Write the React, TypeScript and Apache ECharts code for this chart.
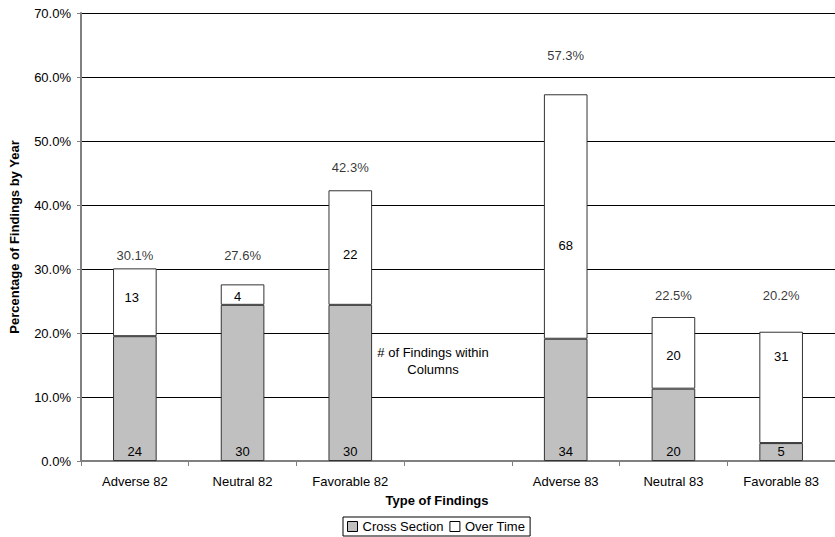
import React, { useEffect, useRef } from "react";
import * as echarts from "echarts";

const categories = ["Adverse 82", "Neutral 82", "Favorable 82", "", "Adverse 83", "Neutral 83", "Favorable 83"];
const crossSectionPct = [19.5, 24.4, 24.4, null, 19.1, 11.3, 2.8];
const overTimePct = [10.6, 3.2, 17.9, null, 38.2, 11.2, 17.4];
const totalPct = [30.1, 27.6, 42.3, null, 57.3, 22.5, 20.2];
const crossSectionCount = [24, 30, 30, null, 34, 20, 5];
const overTimeCount = [13, 4, 22, null, 68, 20, 31];
const yTicks = [0, 10, 20, 30, 40, 50, 60, 70];

// label placement tweaks (Excel labels were moved by hand)
const overLabelOffsets = [[-3, -5], [-5, 2], [0, 7], [0, 0], [0, 29], [0, 3], [0, -31]];
const totalLabelDist = [6, 22, 16, 0, 32, 15, 30];

const FONT = "'Liberation Sans', Arial, sans-serif";

export default function App() {
  const ref = useRef<HTMLDivElement>(null);
  useEffect(() => {
    if (!ref.current) return;
    const chart = echarts.init(ref.current, undefined, { renderer: "svg" });
    const barBorder = { borderColor: "#333", borderWidth: 1 };
    chart.setOption({
      animation: false,
      textStyle: { fontFamily: FONT },
      grid: { left: 77, right: -3, top: 13, bottom: 76, containLabel: false },
      legend: {
        data: ["Cross Section", "Over Time"],
        left: 343,
        top: 517,
        padding: [3, 5, 3, 4],
        itemGap: 6,
        itemWidth: 10,
        itemHeight: 10,
        icon: "rect",
        borderColor: "#000",
        borderWidth: 1,
        borderRadius: 0,
        textStyle: { fontSize: 13, color: "#000", fontFamily: FONT },
        itemStyle: { borderColor: "#000", borderWidth: 1 },
      },
      xAxis: {
        type: "category",
        data: categories,
        boundaryGap: true,
        axisLine: { lineStyle: { color: "#808080", width: 2 } },
        axisTick: { show: true, length: 5, lineStyle: { color: "#808080", width: 1 } },
        axisLabel: { color: "#000", fontSize: 13, margin: 14, fontFamily: FONT, interval: 0 },
        splitLine: { show: false },
      },
      yAxis: {
        type: "value",
        min: 0,
        max: 70,
        interval: 10,
        name: "Percentage of Findings by Year",
        nameLocation: "middle",
        nameGap: 60,
        nameTextStyle: { fontSize: 13, fontWeight: "bold", color: "#000", fontFamily: FONT },
        axisLine: { show: true, lineStyle: { color: "#808080", width: 2 } },
        axisTick: { show: true, length: 4, lineStyle: { color: "#808080" } },
        axisLabel: {
          color: "#000",
          fontSize: 13,
          margin: 10,
          fontFamily: FONT,
          formatter: (v: number) => (yTicks.includes(v) ? v.toFixed(1) + "%" : ""),
        },
        splitLine: { show: true, lineStyle: { color: "#000", width: 1 } },
      },
      series: [
        {
          name: "Cross Section",
          type: "bar",
          stack: "s",
          barWidth: "40.5%",
          itemStyle: { color: "#c0c0c0", ...barBorder },
          data: crossSectionPct.map((v) => (v === null ? "-" : v)),
          label: {
            show: true,
            position: "insideBottom",
            distance: 3,
            fontSize: 13,
            color: "#000",
            fontFamily: FONT,
            formatter: (p: any) => (crossSectionCount[p.dataIndex] ?? "") + "",
          },
        },
        {
          name: "Over Time",
          type: "bar",
          stack: "s",
          barWidth: "40.5%",
          itemStyle: { color: "#ffffff", ...barBorder },
          data: overTimePct.map((v, i) => ({
            value: v === null ? "-" : v,
            label: { offset: overLabelOffsets[i] },
          })),
          label: {
            show: true,
            position: "inside",
            fontSize: 13,
            color: "#000",
            fontFamily: FONT,
            formatter: (p: any) => (overTimeCount[p.dataIndex] ?? "") + "",
          },
        },
        {
          name: "Total",
          type: "scatter",
          symbolSize: 0,
          silent: true,
          data: totalPct.map((v, i) => ({
            value: v === null ? [i, "-"] : [i, v],
            label: { distance: totalLabelDist[i] },
          })),
          label: {
            show: true,
            position: "top",
            fontSize: 13,
            color: "#000",
            fontFamily: FONT,
            formatter: (p: any) => {
              const t = totalPct[p.dataIndex];
              return t === null ? "" : t.toFixed(1) + "%";
            },
          },
        },
      ],
      graphic: [
        {
          type: "text",
          x: 433,
          y: 361,
          style: {
            text: "# of Findings within\nColumns",
            fontSize: 13,
            fill: "#000",
            fontFamily: FONT,
            align: "center",
            verticalAlign: "middle",
            lineHeight: 17,
          },
        },
        {
          type: "text",
          x: 437,
          y: 500,
          style: {
            text: "Type of Findings",
            fontSize: 13,
            fontWeight: "bold",
            fill: "#000",
            fontFamily: FONT,
            align: "center",
            verticalAlign: "middle",
          },
        },
      ],
    });
    return () => chart.dispose();
  }, []);
  return <div ref={ref} style={{ width: 835, height: 537, position: "absolute", left: 0, top: 0, background: "#fff" }} />;
}
